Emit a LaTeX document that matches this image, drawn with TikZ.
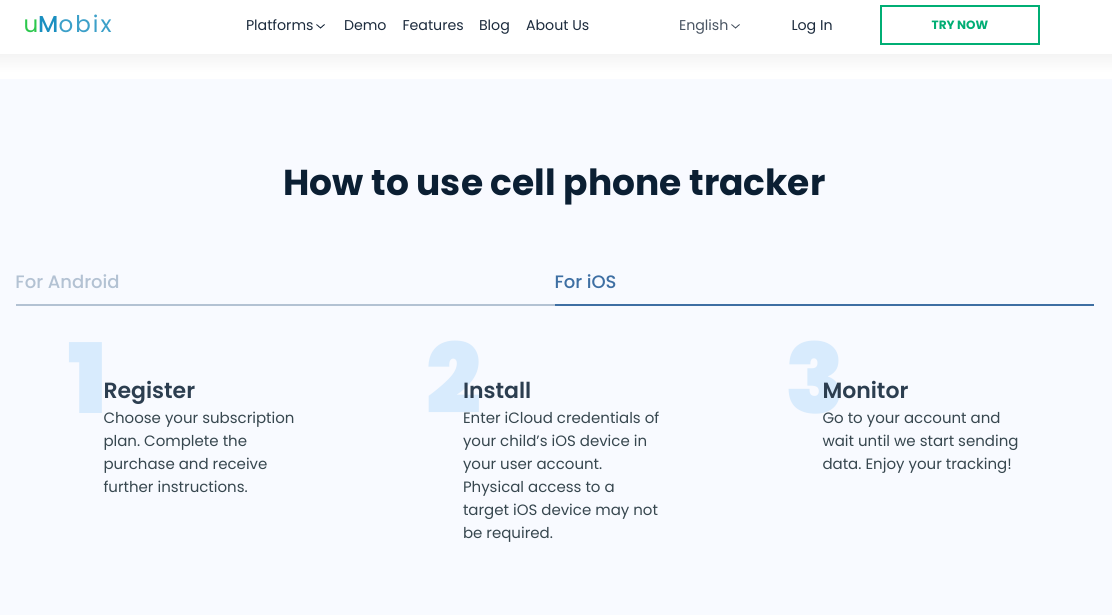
\documentclass[tikz,border=0pt]{standalone}
\usepackage{fontspec}
\setmainfont{Poppins}
\newfontfamily\semib{Poppins SemiBold}
\newfontfamily\boldf{Poppins Bold}
\newfontfamily\medi{Poppins Medium}
\newfontfamily\blackf{Poppins Black}
\newfontfamily\logof[LetterSpace=9]{Poppins}
\newfontfamily\logom[LetterSpace=9]{Poppins Medium}
\frenchspacing
\definecolor{pagebg}{HTML}{F8FAFF}
\definecolor{navy}{HTML}{0B1F33}
\definecolor{navtxt}{HTML}{1C2B3D}
\definecolor{greytxt}{HTML}{4A5563}
\definecolor{green}{HTML}{00AE74}
\definecolor{head}{HTML}{2C3E50}
\definecolor{body}{HTML}{37474F}
\definecolor{numc}{HTML}{D8EBFD}
\definecolor{tabg}{HTML}{B3C2D3}
\definecolor{tabb}{HTML}{3E6FA3}
\definecolor{logog}{HTML}{2CC84D}
\definecolor{logob}{HTML}{1A8FC0}
\tikzset{
 x=1pt,y=-1pt,
 txt/.style={anchor=base west,inner sep=0pt,outer sep=0pt},
 nav/.style={txt,font=\fontsize{14.2}{17}\selectfont,text=navtxt},
 stephead/.style={txt,font=\semib\fontsize{22}{26}\selectfont,text=head},
 bodyline/.style={txt,font=\fontsize{15}{23}\selectfont,text=body},
 bignum/.style={txt,font=\blackf\fontsize{97}{97}\selectfont,text=numc},
 chev/.style={draw=navtxt,line width=0.9pt},
}
\begin{document}
\begin{tikzpicture}
\useasboundingbox (0,0) rectangle (1112,615);
\fill[white] (0,0) rectangle (1112,615);
\shade[top color=black!4,bottom color=white] (0,55) rectangle (1112,72);
\fill[pagebg] (0,79) rectangle (1112,615);
% logo
\node[txt,font=\logof\fontsize{23}{26}\selectfont,text=logob] (logo) at (23.5,33) {\textcolor{logog}{u}{\logom\fontsize{23}{26}\selectfont M}\textcolor{logob!85!white}{obix}};
% nav
\node[nav] (n1) at (246,31) {Platforms};
\draw[chev] (316.5,24.5) -- (320.5,28) -- (324.5,24.5);
\node[nav] (n2) at (344,31) {Demo};
\node[nav] (n3) at (402.5,31) {Features};
\node[nav] (n4) at (479,31) {Blog};
\node[nav] (n5) at (526,31) {About Us};
\node[nav,text=greytxt] (n6) at (679,31) {English};
\draw[chev,draw=greytxt] (731.5,24.5) -- (735.5,28) -- (739.5,24.5);
\node[nav] (n7) at (791.5,31) {Log In};
\node[draw=green,line width=2pt,minimum width=158pt,minimum height=38pt,inner sep=0pt,text=green,font=\boldf\fontsize{12}{14}\selectfont] (try) at (960,25) {TRY NOW};
% title
\node[anchor=base,inner sep=0pt,font=\boldf\fontsize{36}{42}\selectfont,text=navy] (title) at (554.5,196) {How to use cell phone tracker};
% tabs
\node[txt,font=\medi\fontsize{18}{22}\selectfont,text=tabg] (ta) at (15.5,288) {For Android};
\node[txt,font=\medi\fontsize{18}{22}\selectfont,text=tabb] (ti) at (554.5,288) {For iOS};
\draw[tabg,line width=1.5pt] (16,305) -- (555,305);
\draw[tabb,line width=1.5pt] (555,305) -- (1094,305);
% numbers
\node[bignum] (b1) at (68,413) {1};
\node[bignum] (b2) at (426,413) {2};
\node[bignum] (b3) at (785.5,413) {3};
% steps
\node[stephead] (h1) at (103.5,398) {Register};
\node[stephead] (h2) at (463,398) {Install};
\node[stephead] (h3) at (822.5,398) {Monitor};
\foreach \px/\py/\t in {
 103.5/423/Choose your subscription, 103.5/446/plan. Complete the, 103.5/469/purchase and receive, 103.5/492/further instructions.,
 463/423/Enter iCloud credentials of, 463/446/your child’s iOS device in, 463/469/your user account., 463/492/Physical access to a, 463/515/target iOS device may not, 463/538/be required.,
 822.5/423/Go to your account and, 822.5/446/wait until we start sending, 822.5/469/data. Enjoy your tracking!}
 \node[bodyline] at (\px,\py) {\t};
\end{tikzpicture}
\end{document}
